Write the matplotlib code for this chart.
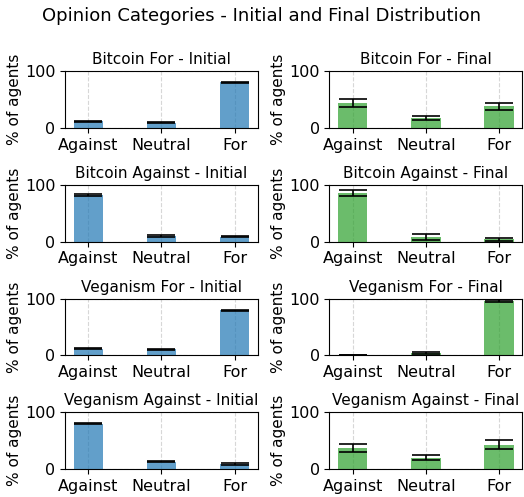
import matplotlib
matplotlib.use('Agg')
import matplotlib.pyplot as plt
import numpy as np

categories = ['Against', 'Neutral', 'For']

# mean % of agents and std, per topic/stance, initial and final
bitcoin_for_initial = [12, 9, 80]
bitcoin_for_initial_err = [1, 1, 1]
bitcoin_for_final = [44, 18, 38]
bitcoin_for_final_err = [7, 3.5, 6.5]

bitcoin_against_initial = [82, 10, 9]
bitcoin_against_initial_err = [1, 1, 1]
bitcoin_against_final = [86, 8, 4]
bitcoin_against_final_err = [5.5, 5.5, 3]

veganism_for_initial = [12, 11, 79]
veganism_for_initial_err = [1, 1, 1]
veganism_for_final = [0.5, 4, 96]
veganism_for_final_err = [0.5, 2, 2]

veganism_against_initial = [80, 13, 9]
veganism_against_initial_err = [1, 1, 1]
veganism_against_final = [37, 20, 43]
veganism_against_final_err = [7, 4.5, 7.5]

groups = ['Bitcoin For', 'Bitcoin Against', 'Veganism For', 'Veganism Against']
initial = [bitcoin_for_initial, bitcoin_against_initial, veganism_for_initial, veganism_against_initial]
initial_err = [bitcoin_for_initial_err, bitcoin_against_initial_err, veganism_for_initial_err, veganism_against_initial_err]
final = [bitcoin_for_final, bitcoin_against_final, veganism_for_final, veganism_against_final]
final_err = [bitcoin_for_final_err, bitcoin_against_final_err, veganism_for_final_err, veganism_against_final_err]

fig, axes = plt.subplots(4, 2, figsize=(5.24, 4.97), dpi=100)
x = np.arange(len(categories))

for i, g in enumerate(groups):
    for j, (vals, errs, col, lab) in enumerate([(initial[i], initial_err[i], 'tab:blue', 'Initial'),
                                                (final[i], final_err[i], 'tab:green', 'Final')]):
        ax = axes[i, j]
        ax.bar(x, vals, width=0.4, color=col, alpha=0.7, yerr=errs, capsize=10,
               error_kw=dict(ecolor='black', elinewidth=1.2, capthick=1.2))
        ax.set_title(g + ' - ' + lab, fontsize=11, pad=5)
        ax.set_xticks(x)
        ax.set_xticklabels(categories)
        ax.tick_params(labelsize=11.5)
        ax.set_ylim(0, 100)
        ax.set_ylabel('% of agents', fontsize=11, labelpad=2)
        ax.grid(True, linestyle='--', alpha=0.5)
        ax.set_axisbelow(True)

fig.suptitle('Opinion Categories - Initial and Final Distribution', fontsize=13, y=0.985)
plt.subplots_adjust(left=0.124, right=0.997, top=0.857, bottom=0.056, wspace=0.37, hspace=1.0)
plt.savefig('out.png')
